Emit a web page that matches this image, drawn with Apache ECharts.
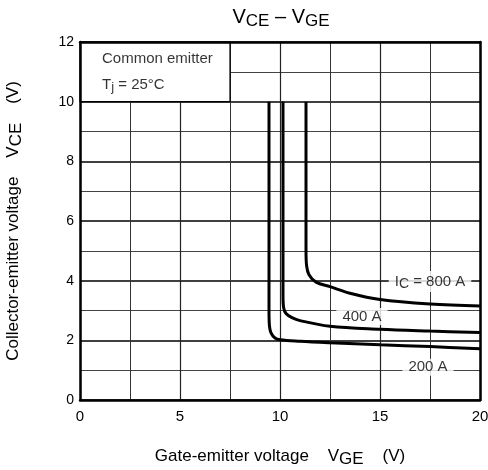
<!DOCTYPE html>
<html>
<head>
<meta charset="utf-8">
<script src="https://cdn.jsdelivr.net/npm/echarts@6/dist/echarts.min.js"></script>
<style>
  html, body { margin: 0; padding: 0; background: #fff; }
  #chart { width: 488px; height: 470px; }
</style>
</head>
<body>
<div id="chart"></div>
<script>
// V_CE vs V_GE characteristic, common emitter, Tj = 25 °C
const curve200 = [[9.45, 10], [9.45, 3.0], [9.47, 2.5], [9.55, 2.25], [9.75, 2.08], [10, 2.02], [11, 1.97], [12.5, 1.92], [15, 1.85], [17.5, 1.79], [20, 1.72]];
const curve400 = [[10.15, 10], [10.15, 3.5], [10.18, 3.1], [10.3, 2.9], [10.6, 2.76], [11, 2.66], [12.5, 2.47], [15, 2.37], [17.5, 2.31], [20, 2.26]];
const curve800 = [[11.3, 10], [11.3, 5.0], [11.33, 4.5], [11.45, 4.2], [11.8, 3.95], [12.5, 3.8], [13.5, 3.58], [15, 3.37], [17.5, 3.22], [20, 3.15]];
const curveLabels = [
  { value: [17.5, 3.97], text: '{t|I}{s|C}{t| = 800 A}' },
  { value: [14.1, 2.8], text: '{t|400 A}' },
  { value: [17.4, 1.1], text: '{t|200 A}' }
];
const conditionLabels = [
  { value: [1.1, 11.45], text: '{t|Common emitter}' },
  { value: [1.1, 10.57], text: '{t|T}{s|j}{t| = 25°C}' }
];
const xTicks = [0, 5, 10, 15, 20];
const yTicks = [0, 2, 4, 6, 8, 10, 12];

const font = 'Liberation Sans, Arial, sans-serif';
const chart = echarts.init(document.getElementById('chart'), null, { renderer: 'canvas' });

const textRich = (size, subSize, subPad) => ({
  t: { fontFamily: font, fontSize: size, color: '#000' },
  s: { fontFamily: font, fontSize: subSize, color: '#000', verticalAlign: 'bottom', padding: [subPad, 0, 0, 0] }
});

const curveSeries = (data) => ({
  type: 'line',
  data: data,
  smooth: 0.35,
  symbol: 'none',
  lineStyle: { color: '#000', width: 3 },
  z: 5
});

// frame axes: only draw the heavy border line, above the series
const frameX = (pos) => ({
  type: 'value', min: 0, max: 20, position: pos,
  axisLine: { show: true, onZero: false, lineStyle: { color: '#000', width: 2.5 } },
  axisTick: { show: false }, axisLabel: { show: false }, splitLine: { show: false },
  z: 10
});
const frameY = (pos) => ({
  type: 'value', min: 0, max: 12, position: pos,
  axisLine: { show: true, onZero: false, lineStyle: { color: '#000', width: 2.5 } },
  axisTick: { show: false }, axisLabel: { show: false }, splitLine: { show: false },
  z: 10
});

chart.setOption({
  animation: false,
  title: {
    text: '{t|V}{s|CE}{t| – V}{s|GE}',
    left: 276,
    textAlign: 'center',
    top: 0,
    textStyle: { fontWeight: 'normal', rich: textRich(20, 17, 8) }
  },
  grid: { left: 80, right: 8, top: 42, bottom: 70, containLabel: false, outerBoundsMode: 'none' },
  xAxis: [{
    type: 'value', min: 0, max: 20, interval: 5,
    axisLine: { show: false },
    axisTick: { show: false },
    axisLabel: { color: '#000', fontFamily: font, fontSize: 15, margin: 9,
      formatter: v => xTicks.includes(v) ? String(v) : '' },
    splitLine: { lineStyle: { color: '#222', width: 1.2 } },
    minorTick: { show: false, splitNumber: 2 },
    minorSplitLine: { show: true, lineStyle: { color: '#333', width: 1 } },
    name: '{t|Gate-emitter voltage    V}{s|GE}{t|    (V)}',
    nameLocation: 'middle', nameGap: 44,
    nameTextStyle: { rich: textRich(17, 17, 7) }
  }, frameX('top'), frameX('bottom')],
  yAxis: [{
    type: 'value', min: 0, max: 12, interval: 2,
    axisLine: { show: false },
    axisTick: { show: false },
    axisLabel: { color: '#000', fontFamily: font, fontSize: 14, margin: 6,
      formatter: v => yTicks.includes(v) ? String(v) : '' },
    splitLine: { lineStyle: { color: '#000', width: 1.6 } },
    minorTick: { show: false, splitNumber: 2 },
    minorSplitLine: { show: true, lineStyle: { color: '#444', width: 1 } },
    name: '{t|Collector-emitter voltage    V}{s|CE}{t|    (V)}',
    nameLocation: 'middle', nameGap: 55, nameRotate: 90,
    nameTextStyle: { rich: textRich(17, 17, 7) }
  }, frameY('left'), frameY('right')],
  series: [
    Object.assign(curveSeries(curve200), {
      markArea: {
        silent: true,
        itemStyle: { color: '#fff', borderColor: '#000', borderWidth: 1.2 },
        label: { show: false },
        data: [[{ coord: [0, 10] }, { coord: [7.5, 12] }]]
      }
    }),
    curveSeries(curve400),
    curveSeries(curve800),
    {
      type: 'scatter',
      symbolSize: 0,
      z: 6,
      data: curveLabels.map(d => ({ value: d.value, label: { formatter: d.text } })),
      label: {
        show: true, position: 'inside',
        backgroundColor: '#fff', padding: [1, 6],
        rich: textRich(15, 14, 5)
      }
    },
    {
      type: 'scatter',
      symbolSize: 0,
      z: 6,
      data: conditionLabels.map(d => ({ value: d.value, label: { formatter: d.text } })),
      label: {
        show: true, position: 'right', distance: 0,
        rich: textRich(15, 13, 5)
      }
    }
  ]
});
</script>
</body>
</html>
